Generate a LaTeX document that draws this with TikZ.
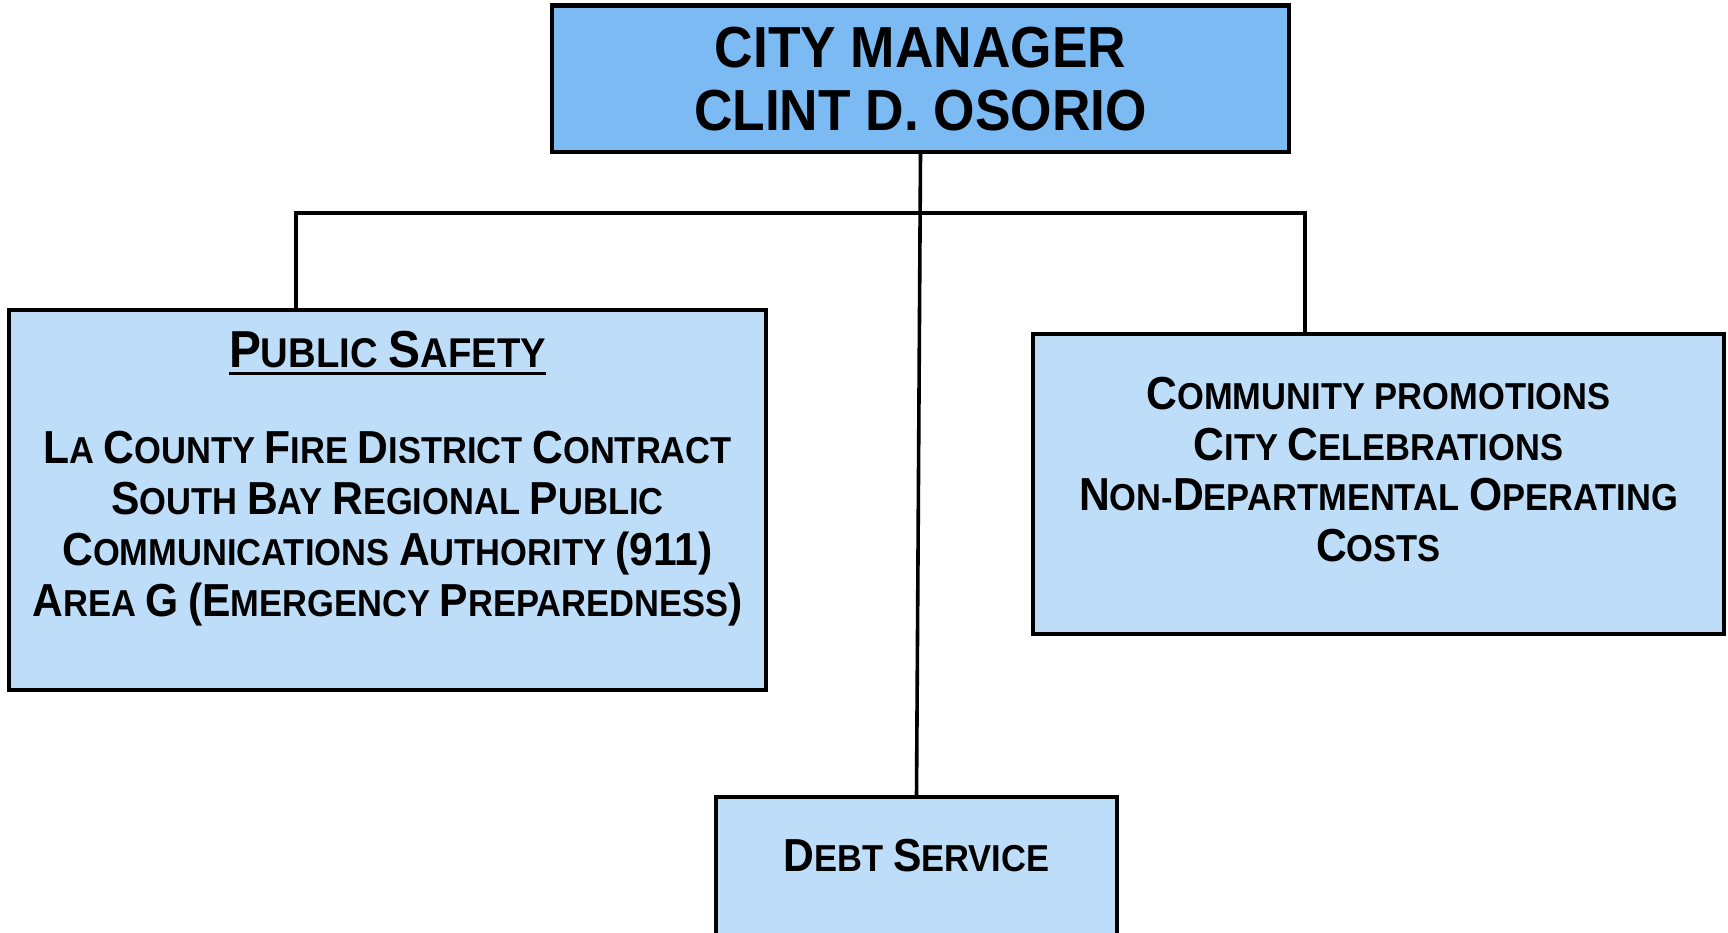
\documentclass[tikz,border=0pt]{standalone}
\usepackage{fontspec}
\setmainfont{Liberation Sans}[FakeStretch=0.92]
\usetikzlibrary{calc}
\definecolor{topblue}{HTML}{7CBAF3}
\definecolor{lowblue}{HTML}{BEDDF8}
\def\bigsz{46}
\newcommand\K[1]{{\fontsize{\bigsz}{\bigsz}\selectfont #1}}
\begin{document}
\begin{tikzpicture}[x=1pt,y=-1pt,
  box/.style={draw=black,line width=4.2pt,inner sep=0pt,outer sep=0pt},
  conn/.style={draw=black,line width=3.6pt},
  toptxt/.style={inner sep=0pt,anchor=base,font=\bfseries\fontsize{57.9}{60}\selectfont},
  sctxt/.style={inner sep=0pt,anchor=base,font=\bfseries\fontsize{37.5}{40}\selectfont\def\bigsz{46.3}},
  headtxt/.style={inner sep=0pt,anchor=base,font=\bfseries\fontsize{41.6}{45}\selectfont\def\bigsz{52}}]
\clip (0,0) rectangle (1728,933);
\fill[white] (0,0) rectangle (1728,933);
% boxes
\node[box,fill=topblue,minimum width=737,minimum height=146.5] (cm) at (920.5,78.75) {};
\node[box,fill=lowblue,minimum width=757,minimum height=380] (ps) at (387.5,500) {};
\node[box,fill=lowblue,minimum width=691,minimum height=300] (cp) at (1378.5,484) {};
\node[box,fill=lowblue,minimum width=401,minimum height=186] (ds) at (916.5,890) {};
% connectors
\coordinate (lt) at (296,213);
\coordinate (rt) at (1305,213);
\draw[conn] (cm.south) -- (ds.north);
\draw[conn] (ps.north -| lt) -- (lt) -- (rt) -- (cp.north -| rt);
% top text
\node[toptxt] (cm1) at (920.5,68) {CITY MANAGER};
\node[toptxt] (cm2) at (920.5,131) {CLINT D. OSORIO};
% public safety
\node[headtxt] (ps0) at (387.5,367) {\K{P}UBLIC \K{S}AFETY};
\draw[line width=3pt] ($(ps0.base west)+(0,6)$) -- ($(ps0.base east)+(0,6)$);
\node[sctxt] (ps1) at (387.5,463) {\K{L}A \K{C}OUNTY \K{F}IRE \K{D}ISTRICT \K{C}ONTRACT};
\node[sctxt] (ps2) at (387.5,514) {\K{S}OUTH \K{B}AY \K{R}EGIONAL \K{P}UBLIC};
\node[sctxt] (ps3) at (387.5,565) {\K{C}OMMUNICATIONS \K{A}UTHORITY \K{(911)}};
\node[sctxt] (ps4) at (387.5,616) {\K{A}REA \K{G} \K{(E}MERGENCY \K{P}REPAREDNESS\K{)}};
% community
\node[sctxt] (cp1) at (1378.5,409) {\K{C}OMMUNITY PROMOTIONS};
\node[sctxt] (cp2) at (1378.5,460) {\K{C}ITY \K{C}ELEBRATIONS};
\node[sctxt] (cp3) at (1378.5,510) {\K{N}ON-\K{D}EPARTMENTAL \K{O}PERATING};
\node[sctxt] (cp4) at (1378.5,561) {\K{C}OSTS};
% debt
\node[sctxt] (ds1) at (916.5,871) {\K{D}EBT \K{S}ERVICE};
\end{tikzpicture}
\end{document}
